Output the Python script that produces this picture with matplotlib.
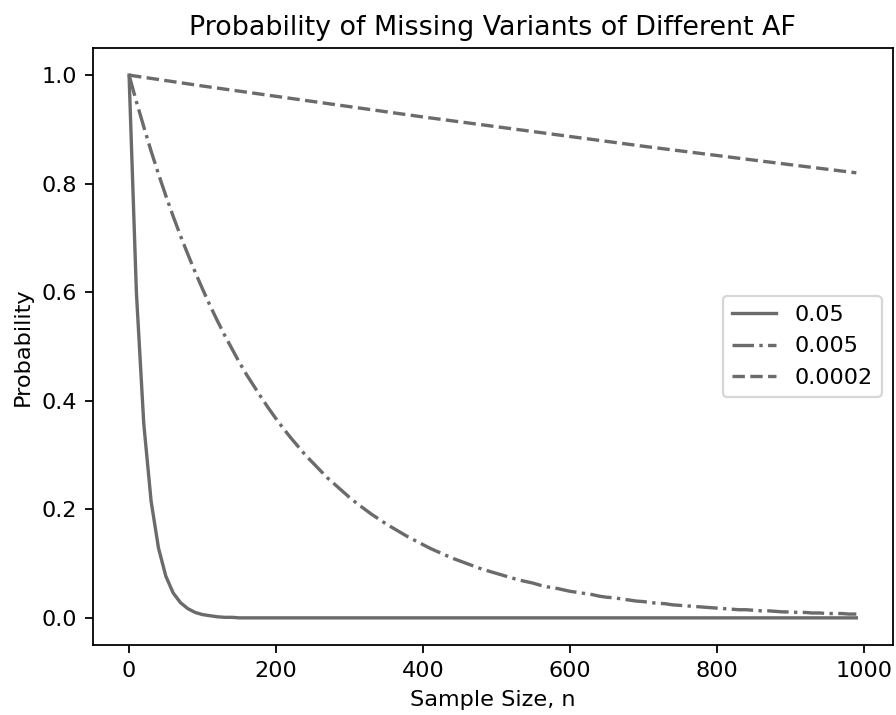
import numpy as np
from matplotlib import pyplot as plt

# sample sizes n (step 10)
sample_sizes = np.arange(0, 1000, 10)

# probability of missing a variant, AF = 0.05
prob_af_005 = [1.000, 0.599, 0.358, 0.215, 0.129, 0.077, 0.046, 0.028, 0.017, 0.010,
               0.006, 0.004, 0.002, 0.001, 0.001] + [0.0] * 85

# AF = 0.005
prob_af_0005 = [1.000, 0.951, 0.905, 0.860, 0.818, 0.778, 0.740, 0.704, 0.670, 0.637,
                0.606, 0.576, 0.548, 0.521, 0.496, 0.471, 0.448, 0.427, 0.406, 0.386,
                0.367, 0.349, 0.332, 0.316, 0.300, 0.286, 0.272, 0.258, 0.246, 0.234,
                0.222, 0.211, 0.201, 0.191, 0.182, 0.173, 0.165, 0.157, 0.149, 0.142,
                0.135, 0.128, 0.122, 0.116, 0.110, 0.105, 0.100, 0.095, 0.090, 0.086,
                0.082, 0.078, 0.074, 0.070, 0.067, 0.064, 0.060, 0.057, 0.055, 0.052,
                0.049, 0.047, 0.045, 0.043, 0.040, 0.038, 0.037, 0.035, 0.033, 0.031,
                0.030, 0.028, 0.027, 0.026, 0.024, 0.023, 0.022, 0.021, 0.020, 0.019,
                0.018, 0.017, 0.016, 0.015, 0.015, 0.014, 0.013, 0.013, 0.012, 0.011,
                0.011, 0.010, 0.010, 0.009, 0.009, 0.008, 0.008, 0.008, 0.007, 0.007]

# AF = 0.0002 (nearly straight, fewer points)
sizes_af_00002 = [0, 100, 200, 300, 400, 500, 600, 700, 800, 900, 990]
prob_af_00002 = [1.000, 0.980, 0.961, 0.942, 0.923, 0.905, 0.887, 0.869, 0.852, 0.835, 0.820]

labels = ['0.05', '0.005', '0.0002']

dpi = 161
fig = plt.figure(figsize=(896 / dpi, 715 / dpi), dpi=dpi)
ax = fig.add_axes([92.7 / 896, 70 / 715, 800 / 896, 597 / 715])

line_color = '#6b6b6b'
ax.plot(sample_sizes, prob_af_005, '-', color=line_color, label=labels[0])
ax.plot(sample_sizes, prob_af_0005, '-.', color=line_color, label=labels[1])
ax.plot(sizes_af_00002, prob_af_00002, '--', color=line_color, label=labels[2])

ax.set_title('Probability of Missing Variants of Different AF')
ax.set_xlabel('Sample Size, n')
ax.set_ylabel('Probability')
ax.legend(loc='center right')

fig.savefig('out.png', dpi=dpi)
